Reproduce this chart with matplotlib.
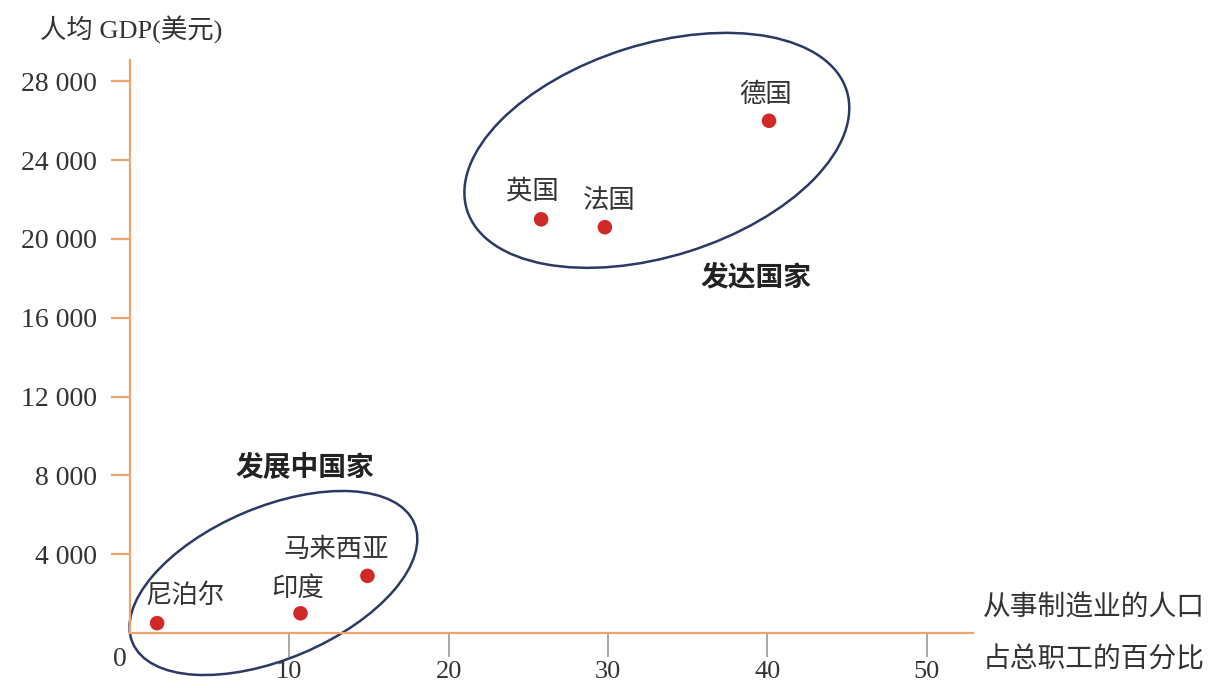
import matplotlib
matplotlib.use("Agg")
import matplotlib.pyplot as plt
from matplotlib.patches import Ellipse
from matplotlib.transforms import ScaledTranslation

# ---- data ----
countries = ["尼泊尔", "印度", "马来西亚", "英国", "法国", "德国"]
manuf_pct = [1.7, 10.7, 14.9, 25.8, 29.8, 40.1]
gdp_pc = [500, 1000, 2900, 21000, 20600, 26000]
label_offsets_px = [(28, 28), (-3, 25), (-31, 26), (-9, 28), (4, 27), (-3, 26)]
x_ticks = [10, 20, 30, 40, 50]
y_ticks = [4000, 8000, 12000, 16000, 20000, 24000, 28000]
y_tick_labels = ["4 000", "8 000", "12 000", "16 000", "20 000", "24 000", "28 000"]

groups = ["发达国家", "发展中国家"]
group_label_pos = [(39.3, 18070), (11.0, 8375)]
ellipse_centers = [(33.06, 24500), (9.0, 2538)]
ellipse_axes_px = [(199, 106, 17.5), (153, 76, 23.0)]

SERIF = ["Liberation Serif", "Noto Sans CJK SC"]
CJK = ["Noto Sans CJK SC", "DejaVu Sans"]
AXIS_COLOR = "#eaa56e"
DOT = "#cf2a27"
NAVY = "#2c3866"

fig = plt.figure(figsize=(12.16, 6.91), dpi=100)
ax = fig.add_axes([130 / 1216, 58 / 691, 843 / 1216, 573 / 691])
ax.set_xlim(0, 52.9)
ax.set_ylim(0, 29086)

for s in ["top", "right"]:
    ax.spines[s].set_visible(False)
ax.spines["left"].set_color(AXIS_COLOR)
ax.spines["bottom"].set_color(AXIS_COLOR)
ax.spines["left"].set_linewidth(1.6)
ax.spines["bottom"].set_linewidth(1.6)

ax.set_xticks(x_ticks)
ax.set_xticklabels([str(v) for v in x_ticks], fontfamily=SERIF, fontsize=19, color="#333333")
ax.set_yticks(y_ticks)
ax.set_yticklabels(y_tick_labels, fontfamily=SERIF, fontsize=20, color="#333333")
ax.tick_params(axis="x", direction="out", length=17, width=1.2, color="#9a9a9a", pad=3)
ax.tick_params(axis="y", direction="out", length=14, width=1.6, color=AXIS_COLOR, pad=10)

# origin label
ax.annotate("0", xy=(0, 0), xytext=(-10, -27), textcoords="offset pixels",
            ha="center", va="center", fontfamily=SERIF, fontsize=20, color="#333333",
            annotation_clip=False)

# points
ax.scatter(manuf_pct, gdp_pc, s=110, color=DOT, zorder=5, edgecolors="none")
for name, x, y, (dx, dy) in zip(countries, manuf_pct, gdp_pc, label_offsets_px):
    ax.annotate(name, xy=(x, y), xytext=(dx, dy), textcoords="offset pixels",
                ha="center", va="center", fontfamily=CJK, fontsize=19, color="#333333")

# ellipses
for (cx, cy), (a, b, ang) in zip(ellipse_centers, ellipse_axes_px):
    tr = fig.dpi_scale_trans + ScaledTranslation(cx, cy, ax.transData)
    e = Ellipse((0, 0), 2 * a / 100, 2 * b / 100, angle=ang, transform=tr,
                fill=False, edgecolor=NAVY, linewidth=1.8, clip_on=False)
    ax.add_patch(e)

for g, (gx, gy) in zip(groups, group_label_pos):
    ax.text(gx, gy, g, ha="center", va="center", fontfamily=CJK, fontsize=20,
            fontweight="bold", color="#222222")

# axis titles
fig.text(40 / 1216, 1 - 30 / 691, "人均 GDP(美元)", ha="left", va="center",
         fontfamily=SERIF, fontsize=19, color="#333333")
fig.text(983 / 1216, 1 - 608 / 691, "从事制造业的人口", ha="left", va="center",
         fontfamily=CJK, fontsize=20, color="#333333")
fig.text(983 / 1216, 1 - 660 / 691, "占总职工的百分比", ha="left", va="center",
         fontfamily=CJK, fontsize=20, color="#333333")

fig.savefig("out.png", dpi=100, facecolor="white")
